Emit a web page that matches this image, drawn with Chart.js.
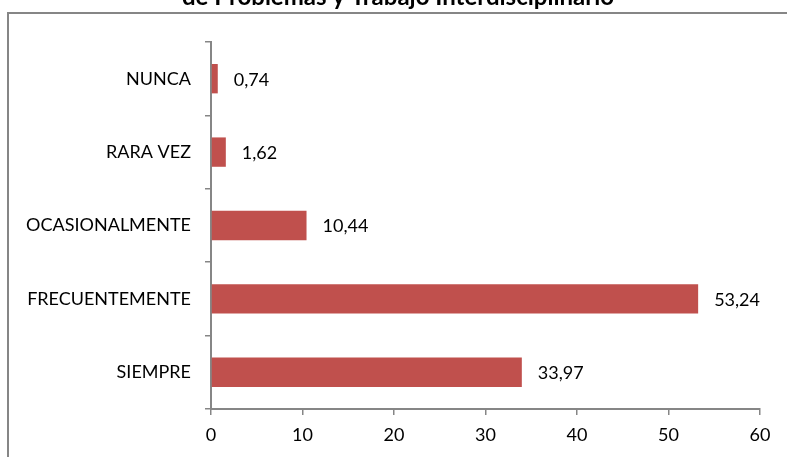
<!DOCTYPE html>
<html>
<head>
<meta charset="utf-8">
<script src="https://cdn.jsdelivr.net/npm/chart.js@4"></script>
<style>
  html, body { margin: 0; padding: 0; background: #fff; }
  #wrap { width: 787px; height: 457px; position: relative; }
</style>
</head>
<body>
<div id="wrap"><canvas id="freqChart"></canvas></div>
<script>
// categories, bottom to top as in the spreadsheet
const categories = ['SIEMPRE', 'FRECUENTEMENTE', 'OCASIONALMENTE', 'RARA VEZ', 'NUNCA'];
const percentages = [33.97, 53.24, 10.44, 1.62, 0.74];
const xTicks = [0, 10, 20, 30, 40, 50, 60];
const titleText = 'de Problemas y Trabajo Interdisciplinario';

const fontFamily = 'Lato, "Open Sans", sans-serif';
const axisGray = '#868686';

// frame + cut-off title
const framePlugin = {
    id: 'frame',
    beforeDraw(chart) {
        const ctx = chart.ctx;
        ctx.save();
        ctx.fillStyle = '#fff';
        ctx.fillRect(0, 0, chart.width, chart.height);
        ctx.strokeStyle = axisGray;
        ctx.lineWidth = 2;
        ctx.strokeRect(8, 13, 900, 600);
        ctx.fillStyle = '#000';
        ctx.font = 'bold 24px ' + fontFamily;
        ctx.textAlign = 'center';
        ctx.textBaseline = 'alphabetic';
        ctx.fillText(titleText, 398, 5);
        ctx.restore();
    }
};

// value labels at the end of each bar
const valueLabels = {
    id: 'valueLabels',
    afterDatasetsDraw(chart) {
        const ctx = chart.ctx;
        const meta = chart.getDatasetMeta(0);
        ctx.save();
        ctx.fillStyle = '#000';
        ctx.font = '18px ' + fontFamily;
        ctx.textAlign = 'left';
        ctx.textBaseline = 'middle';
        meta.data.forEach((bar, i) => {
            const txt = percentages[i].toFixed(2).replace('.', ',');
            ctx.fillText(txt, bar.x + 16, bar.y + 1);
        });
        ctx.restore();
    }
};

const ctx = document.getElementById('freqChart').getContext('2d');
const myChart = new Chart(ctx, {
    type: 'bar',
    data: {
        labels: categories,
        datasets: [{
            data: percentages,
            backgroundColor: '#C0504D',
            borderWidth: 0,
            barPercentage: 0.4,
            categoryPercentage: 1
        }]
    },
    options: {
        indexAxis: 'y',
        responsive: true,
        maintainAspectRatio: false,
        animation: false,
        layout: { padding: { left: 0, top: 42, right: 27, bottom: 0 } },
        plugins: {
            legend: { display: false },
            tooltip: { enabled: false }
        },
        scales: {
            x: {
                min: 0,
                max: 60,
                afterBuildTicks: (scale) => { scale.ticks = xTicks.map(v => ({ value: v })); },
                afterFit: (scale) => { scale.height = 48; },
                grid: { drawOnChartArea: false, drawTicks: true, tickLength: 6, color: axisGray, lineWidth: 1.5 },
                border: { display: true, color: axisGray, width: 2 },
                ticks: { color: '#000', padding: 9, font: { family: fontFamily, size: 18 } }
            },
            y: {
                reverse: true,
                afterFit: (scale) => { scale.width = 211; },
                grid: { drawOnChartArea: false, drawTicks: true, tickLength: 6, color: axisGray, lineWidth: 1.5 },
                border: { display: true, color: axisGray, width: 2 },
                ticks: { color: '#000', padding: 14, font: { family: fontFamily, size: 18 } }
            }
        }
    },
    plugins: [framePlugin, valueLabels]
});
</script>
</body>
</html>
